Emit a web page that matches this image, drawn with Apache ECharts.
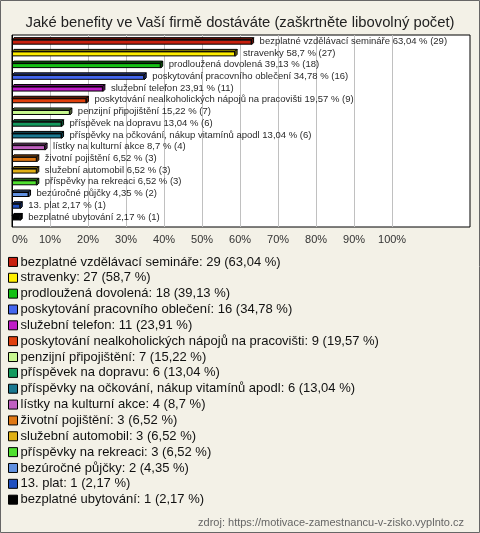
<!DOCTYPE html>
<html><head><meta charset="utf-8">
<script src="https://cdn.jsdelivr.net/npm/echarts@6/dist/echarts.min.js"></script>
<style>html,body{margin:0;padding:0;background:#f3f1e7}#c{width:480px;height:533px}</style>
</head><body><div id="c"></div>
<script>
const titleText = 'Jaké benefity ve Vaší firmě dostáváte (zaškrtněte libovolný počet)';
const sourceText = 'zdroj: https://motivace-zamestnancu-v-zisko.vyplnto.cz';
const categories = ['bezplatné vzdělávací semináře','stravenky','prodloužená dovolená','poskytování pracovního oblečení','služební telefon','poskytování nealkoholických nápojů na pracovišti','penzijní připojištění','příspěvek na dopravu','příspěvky na očkování, nákup vitamínů apodl','lístky na kulturní akce','životní pojištění','služební automobil','příspěvky na rekreaci','bezúročné půjčky','13. plat','bezplatné ubytování'];
const counts = [29,27,18,16,11,9,7,6,6,4,3,3,3,2,1,1];
const percents = [63.04,58.7,39.13,34.78,23.91,19.57,15.22,13.04,13.04,8.7,6.52,6.52,6.52,4.35,2.17,2.17];
const colors = ['#c8200e','#ffee00','#14c014','#4466ee','#c01cc8','#e0400e','#c8f890','#149a5e','#1a7890','#c060c0','#e07814','#e0b014','#50e030','#6090e0','#2050c0','#000000'];
const xTicks = [0,10,20,30,40,50,60,70,80,90,100];

const fmt = v => String(v).replace('.', ',');
function darken(hex, f){
  const n = parseInt(hex.slice(1),16);
  const r = Math.round(((n>>16)&255)*f), g = Math.round(((n>>8)&255)*f), b = Math.round((n&255)*f);
  return 'rgb('+r+','+g+','+b+')';
}
const chart = echarts.init(document.getElementById('c'), null, {renderer:'canvas'});
const FONT = 'Liberation Sans, Arial, sans-serif';
const legendSeries = categories.map((name,i)=>({
  type:'line', name, data:[], xAxisIndex:1, yAxisIndex:1,
  itemStyle:{color:colors[i]}, lineStyle:{color:colors[i]}
}));
const splitColors = ['#000'].concat(Array(10).fill('#c0c0c0')).concat(['rgba(0,0,0,0)','rgba(0,0,0,0)','rgba(0,0,0,0)']);
chart.setOption({
  animation:false,
  backgroundColor:'#f3f1e7',
  title:[
    {text:titleText, left:'center', top:10, textStyle:{fontFamily:FONT, fontSize:14.8, fontWeight:'normal', color:'#222'}},
    {text:sourceText, right:11, top:512, textStyle:{fontFamily:FONT, fontSize:11, fontWeight:'normal', color:'#666'}}
  ],
  graphic:[{type:'rect', shape:{x:0.5,y:0.5,width:479,height:532}, style:{fill:null, stroke:'#666', lineWidth:1}, silent:true}],
  grid:[
    {left:12, top:35, width:458, height:192, show:true, backgroundColor:'#fff', borderColor:'#000', borderWidth:1},
    {left:12, top:36.3, width:458, height:187.5}
  ],
  xAxis:[
    {gridIndex:0, type:'value', min:0, max:120.5, interval:10,
     axisLine:{show:false}, axisTick:{show:false},
     splitLine:{show:true, lineStyle:{color:splitColors, width:1}},
     axisLabel:{margin:7, fontFamily:FONT, fontSize:11, color:'#333', alignMinLabel:'left',
       formatter:v=> xTicks.indexOf(v)>=0 ? v+'%' : ''}},
    {gridIndex:1, type:'value', min:0, max:120.5, show:false}
  ],
  yAxis:[
    {gridIndex:0, type:'value', show:false},
    {gridIndex:1, type:'category', data:categories, inverse:true, show:false}
  ],
  legend:{
    orient:'vertical', left:8, top:254, padding:0, itemGap:0,
    icon:'rect', itemWidth:9, itemHeight:9,
    itemStyle:{borderColor:'#000', borderWidth:1},
    textStyle:{fontFamily:FONT, fontSize:13, color:'#111', lineHeight:15.85, padding:[0,0,0,-2]},
    selectedMode:false,
    data:categories,
    formatter:name=>{const i=categories.indexOf(name); return name+': '+counts[i]+' ('+fmt(percents[i])+' %)';}
  },
  series:[
    {type:'bar', xAxisIndex:1, yAxisIndex:1, barWidth:5, z:2,
     data:percents.map((v,i)=>({value:v, itemStyle:{color:colors[i]}})),
     itemStyle:{borderColor:'#000', borderWidth:1},
     label:{show:true, position:'right', distance:8, fontFamily:FONT, fontSize:9.5, color:'#2a2a2a', offset:[0,-1],
       formatter:p=>categories[p.dataIndex]+' '+fmt(percents[p.dataIndex])+' % ('+counts[p.dataIndex]+')'}},
    {type:'custom', xAxisIndex:1, yAxisIndex:1, z:3, silent:true,
     data:percents.map((v,i)=>[v,i]),
     encode:{x:0, y:1},
     renderItem:(params, api)=>{
       const i = api.value(1);
       const p0 = api.coord([0, i]);
       const p1 = api.coord([api.value(0), i]);
       const d = 2, h = 5;
       const x0 = p0[0], x1 = p1[0], yT = p0[1]-h/2, yB = p0[1]+h/2;
       const c = darken(colors[i], 0.55);
       return {type:'group', children:[
         {type:'polygon', shape:{points:[[x0,yT],[x0+d,yT-d],[x1+d,yT-d],[x1,yT]]}, style:{fill:c, stroke:'#000', lineWidth:1}},
         {type:'polygon', shape:{points:[[x1,yT],[x1+d,yT-d],[x1+d,yB-d],[x1,yB]]}, style:{fill:c, stroke:'#000', lineWidth:1}}
       ]};
     }}
  ].concat(legendSeries)
});
</script></body></html>
